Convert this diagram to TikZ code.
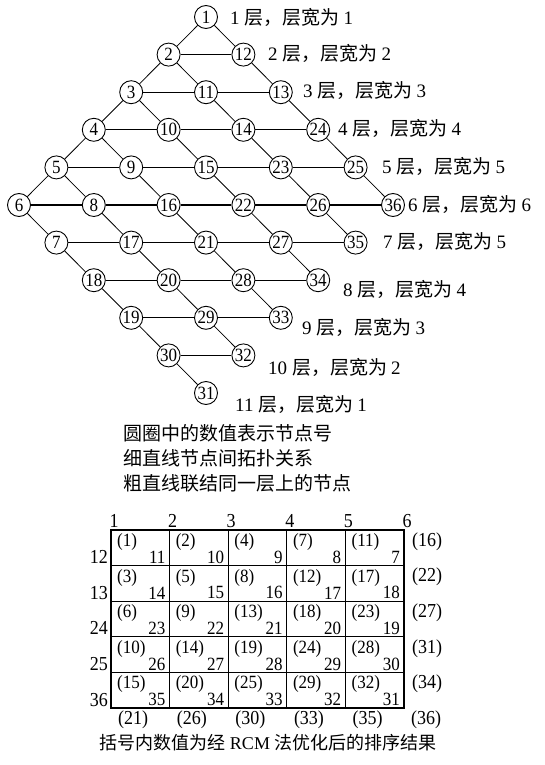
\documentclass[tikz,border=0pt]{standalone}
\usepackage{fontspec}
\usepackage{graphicx}
\setmainfont{Liberation Serif}
\newfontfamily\cjk{Noto Sans CJK SC}
\newcommand{\tallnum}[1]{\scalebox{1}[1.1]{#1}}
\begin{document}
\begin{tikzpicture}[x=1pt,y=-1pt,
  vtx/.style={circle,draw,line width=0.9pt,minimum size=23pt,inner sep=0pt,font=\fontsize{17}{17}\selectfont},
  topo/.style={line width=0.8pt},
  lev/.style={line width=1.1pt},
  lbl/.style={anchor=west,inner sep=0pt,font=\fontsize{19}{19}\selectfont},
  capt/.style={anchor=west,inner sep=0pt,font=\cjk\fontsize{19}{19}\selectfont},
  celltxt/.style={inner sep=0pt,font=\fontsize{17}{17}\selectfont},
  outtxt/.style={inner sep=0pt,font=\fontsize{18}{18}\selectfont},
  gridline/.style={line width=1.2pt}
]
\useasboundingbox (0,0) rectangle (544,765);
% nodes: i = steps down-left, j = steps down-right
\foreach \i/\j/\n in {
  0/0/1,1/0/2,2/0/3,3/0/4,4/0/5,5/0/6,
  0/1/12,1/1/11,2/1/10,3/1/9,4/1/8,5/1/7,
  0/2/13,1/2/14,2/2/15,3/2/16,4/2/17,5/2/18,
  0/3/24,1/3/23,2/3/22,3/3/21,4/3/20,5/3/19,
  0/4/25,1/4/26,2/4/27,3/4/28,4/4/29,5/4/30,
  0/5/36,1/5/35,2/5/34,3/5/33,4/5/32,5/5/31}
  \node[vtx] (n\n) at ({206+37.4*(\j-\i)},{17+37.6*(\i+\j)}) {\tallnum{\n}};
% topology (thin) lines
\foreach \a/\b in {1/2,2/3,3/4,4/5,5/6,
  1/12,12/13,13/24,24/25,25/36,
  2/11,11/14,14/23,23/26,26/35,
  3/10,10/15,15/22,22/27,27/34,
  4/9,9/16,16/21,21/28,28/33,
  5/8,8/17,17/20,20/29,29/32,
  6/7,7/18,18/19,19/30,30/31}
  \draw[topo] (n\a) -- (n\b);
% same-level (thick) lines
\foreach \a/\b in {2/12,3/11,11/13,4/10,10/14,14/24,
  5/9,9/15,15/23,23/25,6/8,8/16,16/22,22/26,26/36,
  7/17,17/21,21/27,27/35,18/20,20/28,28/34,19/29,29/33,30/32}
  \draw[lev] (n\a) -- (n\b);
% level labels
\foreach \k/\x/\y in {1/230/17,2/268/53,3/303/90,4/338/128,5/382/166,6/408/204,
  7/383/241,8/343/289,9/302/327,10/268/367}
  \node[lbl] (lab\k) at (\x,\y) {\k\hspace{5pt}{\cjk 层，层宽为}\hspace{4pt}\ifcase\k\or 1\or 2\or 3\or 4\or 5\or 6\or 5\or 4\or 3\or 2\fi};
\node[lbl] (lab11) at (235,404) {11\hspace{5pt}{\cjk 层，层宽为}\hspace{4pt}1};
% captions
\node[capt] (cap1) at (123,433) {圆圈中的数值表示节点号};
\node[capt] (cap2) at (123,458) {细直线节点间拓扑关系};
\node[capt] (cap3) at (123,483) {粗直线联结同一层上的节点};
% table grid
\draw[gridline] (111,530) rectangle (404,708);
\foreach \c in {1,2,3,4}
  \draw[gridline] ({111+58.6*\c},530) -- ({111+58.6*\c},708);
\foreach \r in {1,2,3,4}
  \draw[gridline] (111,{530+35.6*\r}) -- (404,{530+35.6*\r});
% cell texts
\foreach \r/\c/\u/\l in {
  0/0/1/11,0/1/2/10,0/2/4/9,0/3/7/8,0/4/11/7,
  1/0/3/14,1/1/5/15,1/2/8/16,1/3/12/17,1/4/17/18,
  2/0/6/23,2/1/9/22,2/2/13/21,2/3/18/20,2/4/23/19,
  3/0/10/26,3/1/14/27,3/2/19/28,3/3/24/29,3/4/28/30,
  4/0/15/35,4/1/20/34,4/2/25/33,4/3/29/32,4/4/32/31}
{
  \node[celltxt,anchor=west] (u\r\c) at ({111+58.6*\c+6},{530+35.6*\r+12}) {\tallnum{(\u)}};
  \node[celltxt,anchor=south east] (l\r\c) at ({111+58.6*(\c+1)-4},{530+35.6*(\r+1)-2}) {\tallnum{\l}};
}
% top labels
\foreach \c in {0,...,5}
  \node[outtxt,anchor=base] (t\c) at ({111+58.6*\c+3},527) {\tallnum{\the\numexpr\c+1\relax}};
% left labels
\foreach \r/\v in {1/12,2/13,3/24,4/25,5/36}
  \node[outtxt,anchor=base east] (le\r) at (108,{530+35.6*\r-2}) {\tallnum{\v}};
% right labels
\foreach \r/\v in {1/16,2/22,3/27,4/31,5/34}
  \node[outtxt,anchor=west] (ri\r) at (412,{530+35.6*\r-24}) {\tallnum{(\v)}};
% bottom labels
\foreach \c/\v in {0/21,1/26,2/30,3/33,4/35,5/36}
  \node[outtxt,anchor=west] (bo\c) at ({111+58.6*\c+7},720) {\tallnum{(\v)}};
\node[inner sep=0pt,font=\fontsize{18}{18}\selectfont] (cap4) at (268,743) {{\cjk 括号内数值为经} RCM {\cjk 法优化后的排序结果}};
\end{tikzpicture}
\end{document}
